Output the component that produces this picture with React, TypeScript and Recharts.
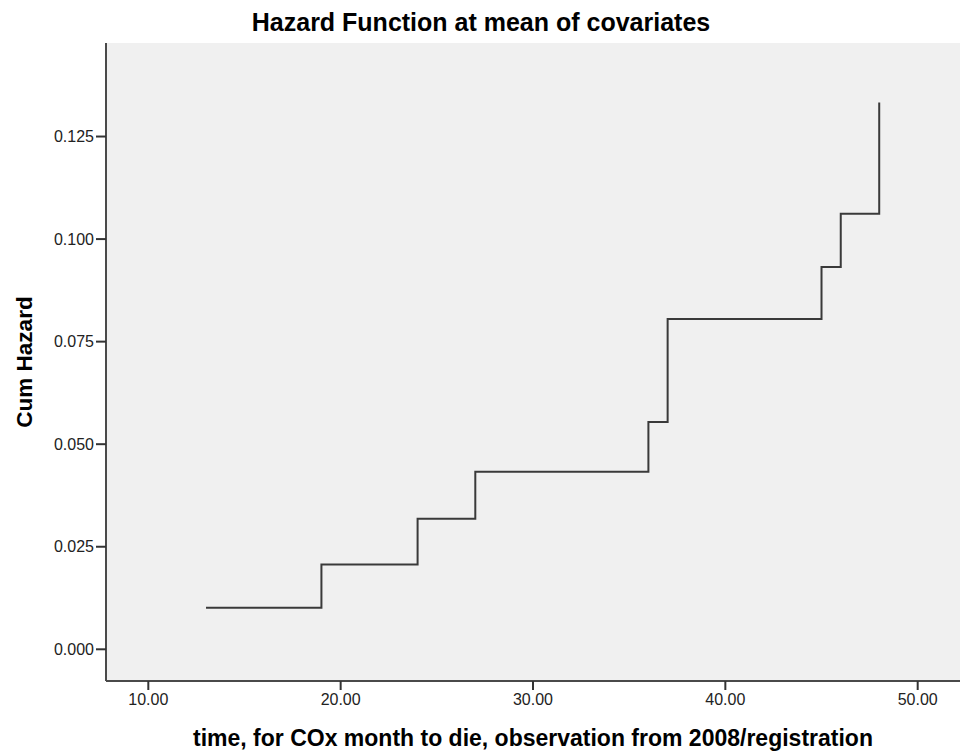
import { CartesianGrid, Label, Line, LineChart, XAxis, YAxis } from "recharts";

// Step points of the cumulative hazard curve (month, cum hazard)
const months = [13, 19, 24, 27, 36, 37, 45, 46, 48];
const cumHazard = [0.0101, 0.0207, 0.0318, 0.0433, 0.0554, 0.0805, 0.0932, 0.1062, 0.1333];
const xTicks = [10, 20, 30, 40, 50];
const yTicks = [0, 0.025, 0.05, 0.075, 0.1, 0.125];

const data = months.map((t, i) => ({ t, h: cumHazard[i] }));

const FONT = "'Liberation Sans', Arial, sans-serif";

export default function App() {
  return (
    <div style={{ position: "absolute", left: 0, top: 0, width: 960, height: 753, background: "#fff", fontFamily: FONT }}>
      <span
        style={{
          position: "absolute",
          left: 481,
          top: 8,
          transform: "translateX(-50%)",
          whiteSpace: "nowrap",
          fontWeight: "bold",
          fontSize: 25,
          lineHeight: "28px",
          color: "#000",
        }}
      >
        Hazard Function at mean of covariates
      </span>
      <LineChart width={960} height={753} data={data} margin={{ top: 43, right: 0, bottom: 0, left: 0 }}>
        <CartesianGrid fill="#f0f0f0" horizontal={false} vertical={false} />
        <XAxis
          xAxisId="top"
          orientation="top"
          type="number"
          dataKey="t"
          domain={[7.8, 52.2]}
          allowDataOverflow
          tick={false}
          tickLine={false}
          height={0}
          axisLine={{ stroke: "#6e6e6e", strokeWidth: 2 }}
        />
        <XAxis
          type="number"
          dataKey="t"
          domain={[7.8, 52.2]}
          allowDataOverflow
          ticks={xTicks}
          tickFormatter={(v: number) => v.toFixed(2)}
          height={72}
          tickSize={9}
          tickMargin={4}
          axisLine={{ stroke: "#4a4a4a", strokeWidth: 2 }}
          tickLine={{ stroke: "#333", strokeWidth: 2 }}
          tick={{ fill: "#222", fontSize: 16, fontFamily: FONT }}
        >
          <Label
            value="time, for COx month to die, observation from 2008/registration"
            position="insideBottom"
            offset={7}
            style={{ fontWeight: "bold", fontSize: 23, fill: "#000", fontFamily: FONT }}
          />
        </XAxis>
        <YAxis
          type="number"
          domain={[-0.00773, 0.1478]}
          allowDataOverflow
          ticks={yTicks}
          tickFormatter={(v: number) => v.toFixed(3)}
          width={106}
          tickSize={10}
          tickMargin={2}
          axisLine={{ stroke: "#4a4a4a", strokeWidth: 2 }}
          tickLine={{ stroke: "#333", strokeWidth: 2 }}
          tick={{ fill: "#222", fontSize: 16, fontFamily: FONT }}
        >
          <Label
            value="Cum Hazard"
            angle={-90}
            position="insideLeft"
            offset={24}
            style={{ textAnchor: "middle", fontWeight: "bold", fontSize: 22.5, fill: "#000", fontFamily: FONT }}
          />
        </YAxis>
        <Line
          type="stepAfter"
          dataKey="h"
          stroke="#3a3a3a"
          strokeWidth={2}
          dot={false}
          isAnimationActive={false}
        />
      </LineChart>
    </div>
  );
}
